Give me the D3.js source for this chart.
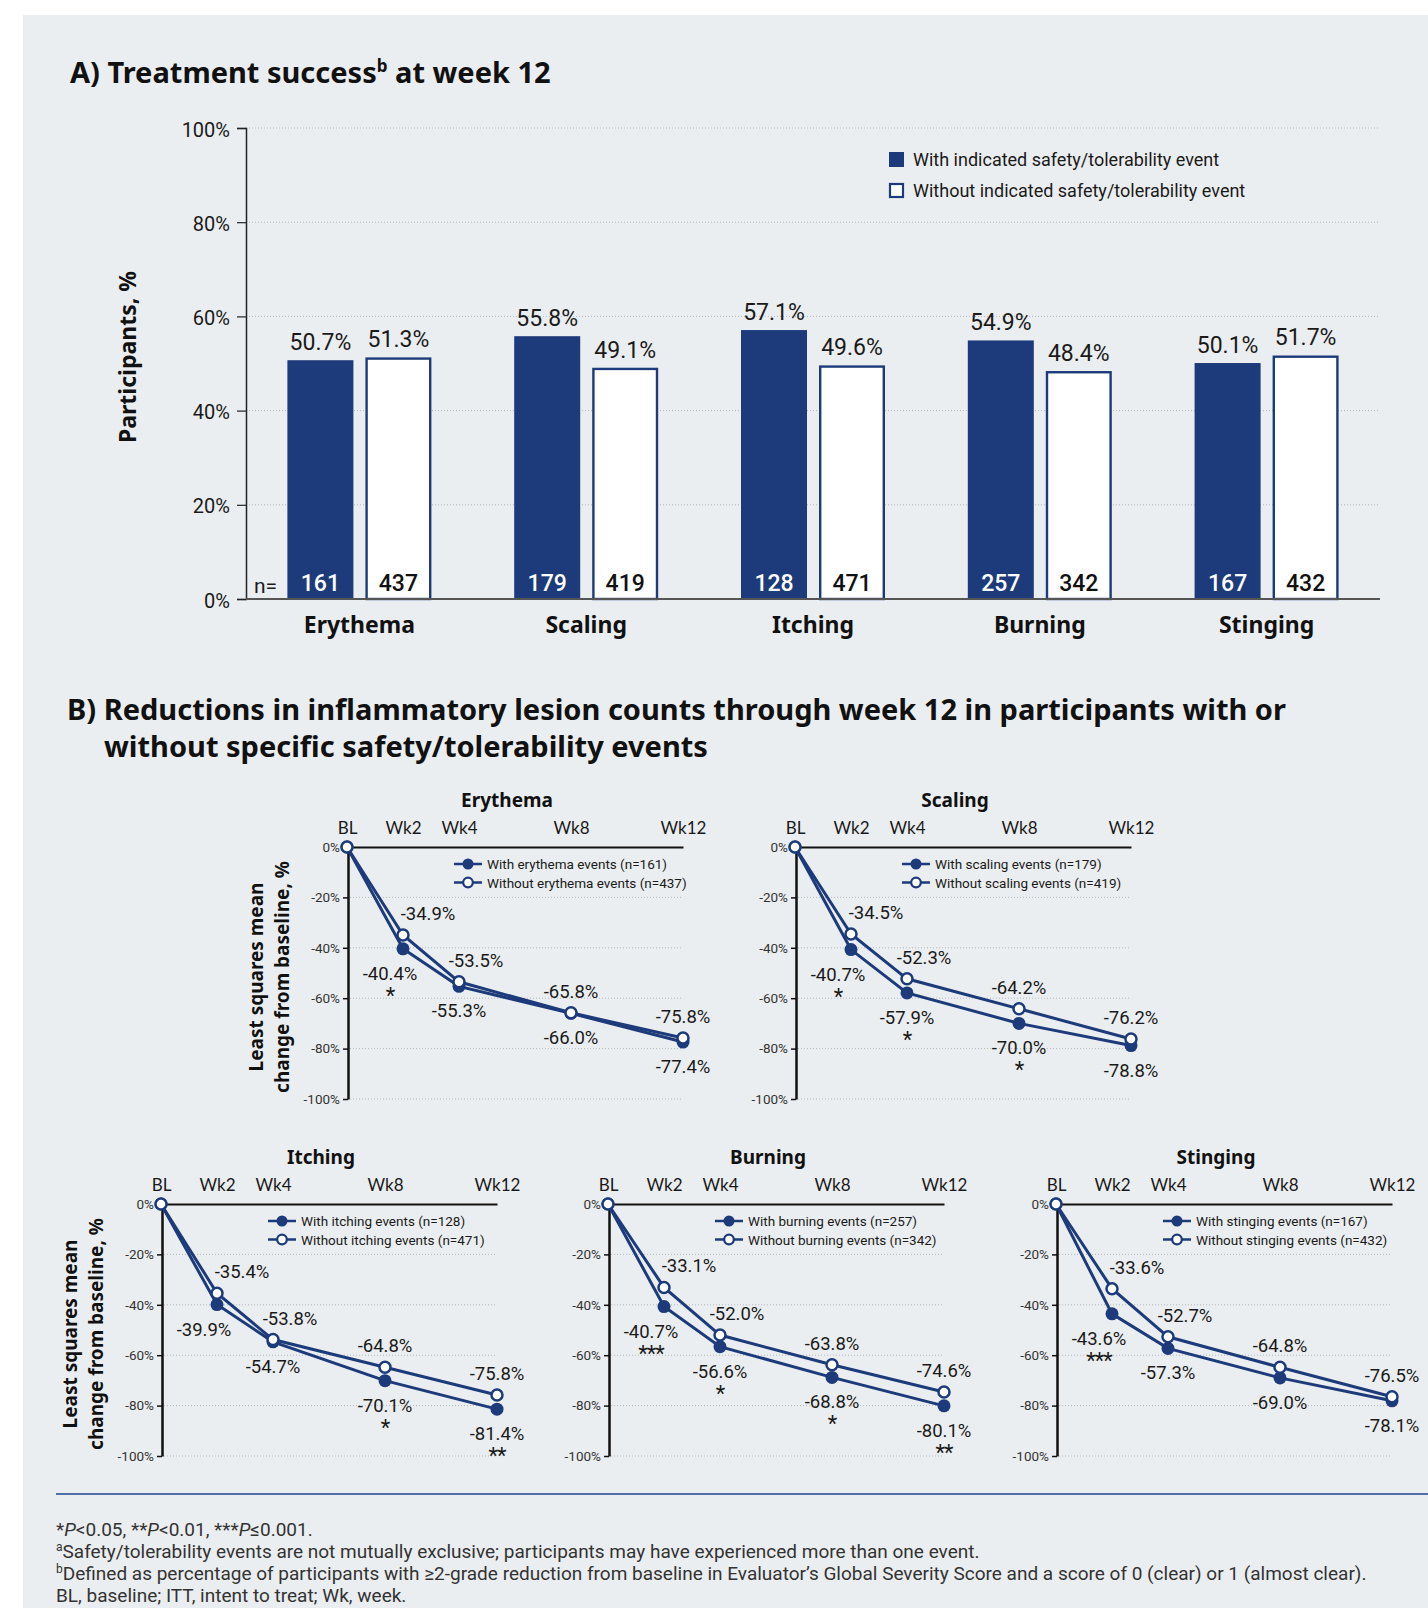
<!DOCTYPE html>
<html>
<head>
<meta charset="utf-8">
<script src="https://cdn.jsdelivr.net/npm/d3@7"></script>
<style>
  body { margin: 0; background: #fff; }
  .head { font-family: "Noto Sans", "Open Sans", sans-serif; font-weight: 700; fill: #111; }
  .num { font-family: Roboto, "Noto Sans", sans-serif; fill: #1a1a1a; }
  .wk { font-family: Lato, "Open Sans", sans-serif; fill: #1a1a1a; }
</style>
</head>
<body>
<script>
// ---- data ----
var categories = ["Erythema", "Scaling", "Itching", "Burning", "Stinging"];
var withPct    = [50.7, 55.8, 57.1, 54.9, 50.1];
var withoutPct = [51.3, 49.1, 49.6, 48.4, 51.7];
var withN      = [161, 179, 128, 257, 167];
var withoutN   = [437, 419, 471, 342, 432];
var yTicksA    = [0, 20, 40, 60, 80, 100];

var weeks      = [0, 2, 4, 8, 12];
var weekLabels = ["BL", "Wk2", "Wk4", "Wk8", "Wk12"];
var yTicksB    = [0, -20, -40, -60, -80, -100];
var eventNames = ["erythema", "scaling", "itching", "burning", "stinging"];
var withChange = [
  [0, -40.4, -55.3, -66.0, -77.4],
  [0, -40.7, -57.9, -70.0, -78.8],
  [0, -39.9, -54.7, -70.1, -81.4],
  [0, -40.7, -56.6, -68.8, -80.1],
  [0, -43.6, -57.3, -69.0, -78.1]
];
var withoutChange = [
  [0, -34.9, -53.5, -65.8, -75.8],
  [0, -34.5, -52.3, -64.2, -76.2],
  [0, -35.4, -53.8, -64.8, -75.8],
  [0, -33.1, -52.0, -63.8, -74.6],
  [0, -33.6, -52.7, -64.8, -76.5]
];
var stars = [
  ["", "*", "", "", ""],
  ["", "*", "*", "*", ""],
  ["", "", "", "*", "**"],
  ["", "***", "*", "*", "**"],
  ["", "***", "", "", ""]
];

var navy = "#1d3b7b";

var svg = d3.select("body").append("svg")
  .attr("width", 1428)
  .attr("height", 1608);

svg.append("rect")
  .attr("x", 23).attr("y", 15)
  .attr("width", 1428 - 23).attr("height", 1608 - 15)
  .attr("fill", "#ebeef0");

// ---------- Panel A ----------
var tA = svg.append("text").attr("class", "head")
  .attr("x", 70).attr("y", 83).attr("font-size", 29);
tA.append("tspan").text("A) Treatment success");
tA.append("tspan").attr("font-size", 17).attr("dy", -11).text("b");
tA.append("tspan").attr("dy", 11).text(" at week 12");

var x = d3.scaleBand().domain(categories).range([246, 1380]);
var y = d3.scaleLinear().domain([0, 100]).range([599, 128]);

// gridlines
svg.append("g").selectAll("line")
  .data(yTicksA.slice(1))
  .enter().append("line")
  .attr("x1", 246).attr("x2", 1380)
  .attr("y1", function(d){ return y(d); })
  .attr("y2", function(d){ return y(d); })
  .attr("stroke", "#b4b8bb")
  .attr("stroke-width", 1)
  .attr("stroke-dasharray", "1,2");

var axA = svg.append("g")
  .attr("transform", "translate(246,0)")
  .call(d3.axisLeft(y).tickValues(yTicksA).tickSize(9).tickPadding(7)
        .tickFormat(function(d){ return d + "%"; }));
axA.select(".domain").attr("stroke", "#222").attr("stroke-width", 1.5);
axA.selectAll(".tick line").attr("stroke", "#222").attr("stroke-width", 1.2);
axA.selectAll(".tick text").attr("class", "num").attr("font-size", 20).attr("dy", "0.4em");

svg.append("text").attr("class", "head")
  .attr("transform", "translate(136,357) rotate(-90)")
  .attr("text-anchor", "middle")
  .attr("font-size", 23)
  .text("Participants, %");

var barW = 66;
var groups = svg.append("g").selectAll("g")
  .data(categories)
  .enter().append("g")
  .attr("transform", function(d){ return "translate(" + (x(d) + x.bandwidth() / 2) + ",0)"; });

// with bars
groups.append("rect")
  .attr("x", -39 - barW / 2)
  .attr("y", function(d, i){ return y(withPct[i]); })
  .attr("width", barW)
  .attr("height", function(d, i){ return y(0) - y(withPct[i]); })
  .attr("fill", navy);

// without bars
groups.append("rect")
  .attr("x", 39 - barW / 2 + 1.2)
  .attr("y", function(d, i){ return y(withoutPct[i]) + 1.2; })
  .attr("width", barW - 2.4)
  .attr("height", function(d, i){ return y(0) - y(withoutPct[i]) - 1.2; })
  .attr("fill", "#fff")
  .attr("stroke", navy)
  .attr("stroke-width", 2.4);

groups.append("text").attr("class", "num")
  .attr("x", -39).attr("text-anchor", "middle").attr("font-size", 23)
  .attr("y", function(d, i){ return y(withPct[i]) - 10; })
  .text(function(d, i){ return withPct[i].toFixed(1) + "%"; });

groups.append("text").attr("class", "num")
  .attr("x", 39).attr("text-anchor", "middle").attr("font-size", 23)
  .attr("y", function(d, i){ return y(withoutPct[i]) - 10; })
  .text(function(d, i){ return withoutPct[i].toFixed(1) + "%"; });

groups.append("text").attr("class", "num")
  .attr("x", -39).attr("y", 591).attr("text-anchor", "middle")
  .attr("font-size", 23).attr("font-weight", 500).style("fill", "#fff")
  .text(function(d, i){ return withN[i]; });

groups.append("text").attr("class", "num")
  .attr("x", 39).attr("y", 591).attr("text-anchor", "middle")
  .attr("font-size", 23).attr("font-weight", 500).style("fill", "#111")
  .text(function(d, i){ return withoutN[i]; });

groups.append("text").attr("class", "head")
  .attr("y", 633).attr("text-anchor", "middle").attr("font-size", 23)
  .text(function(d){ return d; });

// baseline
svg.append("line")
  .attr("x1", 246).attr("x2", 1380)
  .attr("y1", y(0)).attr("y2", y(0))
  .attr("stroke", "#555").attr("stroke-width", 2);

svg.append("text").attr("class", "num")
  .attr("x", 254).attr("y", 593).attr("font-size", 21)
  .text("n=");

// legend A
var legA = svg.append("g").attr("transform", "translate(889,152)");
legA.append("rect").attr("width", 15).attr("height", 15).attr("fill", navy);
legA.append("rect").attr("x", 1).attr("y", 32).attr("width", 13).attr("height", 13)
  .attr("fill", "#fff").attr("stroke", navy).attr("stroke-width", 2.2);
legA.append("text").attr("class", "num").attr("x", 24).attr("y", 14).attr("font-size", 18)
  .text("With indicated safety/tolerability event");
legA.append("text").attr("class", "num").attr("x", 24).attr("y", 45).attr("font-size", 18)
  .text("Without indicated safety/tolerability event");

// ---------- Panel B ----------
var tB = svg.append("text").attr("class", "head").attr("font-size", 29);
tB.append("tspan").attr("x", 67).attr("y", 720)
  .text("B) Reductions in inflammatory lesion counts through week 12 in participants with or");
tB.append("tspan").attr("x", 104).attr("y", 757)
  .text("without specific safety/tolerability events");

var origins = [[347, 847], [795, 847], [161, 1204], [608, 1204], [1056, 1204]];
var plotW = 336, plotH = 252;

categories.forEach(function(cat, ci){
  var x0 = origins[ci][0], y0 = origins[ci][1];
  var xs = d3.scaleLinear().domain([0, 12]).range([x0, x0 + plotW]);
  var ys = d3.scaleLinear().domain([0, -100]).range([y0, y0 + plotH]);
  var g = svg.append("g");

  g.append("text").attr("class", "head")
    .attr("x", x0 + plotW / 2 - 8).attr("y", y0 - 40)
    .attr("text-anchor", "middle").attr("font-size", 19)
    .text(cat);

  // grid
  g.append("g").selectAll("line")
    .data(yTicksB.slice(1))
    .enter().append("line")
    .attr("x1", x0).attr("x2", x0 + plotW)
    .attr("y1", function(d){ return ys(d); })
    .attr("y2", function(d){ return ys(d); })
    .attr("stroke", "#b4b8bb").attr("stroke-width", 1)
    .attr("stroke-dasharray", "1,2");

  var ax = g.append("g").attr("transform", "translate(0," + y0 + ")")
    .call(d3.axisTop(xs).tickValues(weeks).tickSize(0).tickSizeOuter(0).tickPadding(13)
          .tickFormat(function(d, i){ return weekLabels[i]; }));
  ax.select(".domain").attr("stroke", "#111").attr("stroke-width", 2);
  ax.selectAll(".tick text").attr("class", "wk").attr("font-size", 17);

  var ay = g.append("g").attr("transform", "translate(" + (x0 + 1) + ",0)")
    .call(d3.axisLeft(ys).tickValues(yTicksB).tickSize(5).tickSizeOuter(0).tickPadding(3)
          .tickFormat(function(d){ return d + "%"; }));
  ay.select(".domain").attr("stroke", "#111").attr("stroke-width", 2.5);
  ay.selectAll(".tick line").attr("stroke", "#111").attr("stroke-width", 1.5);
  ay.selectAll(".tick text").attr("class", "num").attr("font-size", 13.5).style("fill", "#333");

  var line = d3.line()
    .x(function(d, i){ return xs(weeks[i]); })
    .y(function(d){ return ys(d); });

  // with series
  g.append("path").datum(withChange[ci])
    .attr("d", line).attr("fill", "none")
    .attr("stroke", navy).attr("stroke-width", 3);
  g.append("g").selectAll("circle")
    .data(withChange[ci])
    .enter().append("circle")
    .attr("cx", function(d, i){ return xs(weeks[i]); })
    .attr("cy", function(d){ return ys(d); })
    .attr("r", 6.5).attr("fill", navy);

  // without series
  g.append("path").datum(withoutChange[ci])
    .attr("d", line).attr("fill", "none")
    .attr("stroke", navy).attr("stroke-width", 3);
  g.append("g").selectAll("circle")
    .data(withoutChange[ci])
    .enter().append("circle")
    .attr("cx", function(d, i){ return xs(weeks[i]); })
    .attr("cy", function(d){ return ys(d); })
    .attr("r", 5.5).attr("fill", "#fff")
    .attr("stroke", navy).attr("stroke-width", 2.5);

  // value labels (skip baseline)
  var dxWithout = [0, 25, 17, 0, 0];
  var dxWith = [0, -13, 0, 0, 0];
  withoutChange[ci].forEach(function(v, i){
    if (i === 0) return;
    g.append("text").attr("class", "num")
      .attr("x", xs(weeks[i]) + dxWithout[i])
      .attr("y", ys(v) - 15)
      .attr("text-anchor", "middle").attr("font-size", 18.5)
      .text(v.toFixed(1) + "%");
  });
  withChange[ci].forEach(function(v, i){
    if (i === 0) return;
    var lx = xs(weeks[i]) + dxWith[i], ly = ys(v) + 31;
    g.append("text").attr("class", "num")
      .attr("x", lx).attr("y", ly)
      .attr("text-anchor", "middle").attr("font-size", 18.5)
      .text(v.toFixed(1) + "%");
    if (stars[ci][i]) {
      g.append("text").attr("class", "num")
        .attr("x", lx).attr("y", ly + 23)
        .attr("text-anchor", "middle").attr("font-size", 22)
        .attr("letter-spacing", -1)
        .text(stars[ci][i]);
    }
  });

  // legend
  var lg = g.append("g").attr("transform", "translate(" + (x0 + 107) + "," + (y0 + 17) + ")");
  [0, 1].forEach(function(k){
    var ly = k * 18.5;
    lg.append("line").attr("x1", 0).attr("x2", 28).attr("y1", ly).attr("y2", ly)
      .attr("stroke", navy).attr("stroke-width", 2.5);
    lg.append("circle").attr("cx", 14).attr("cy", ly)
      .attr("r", k === 0 ? 5.5 : 4.8)
      .attr("fill", k === 0 ? navy : "#fff")
      .attr("stroke", navy).attr("stroke-width", k === 0 ? 0 : 2.2);
    lg.append("text").attr("class", "num")
      .attr("x", 33).attr("y", ly + 5).attr("font-size", 13.5)
      .text((k === 0 ? "With " : "Without ") + eventNames[ci] + " events (n=" +
            (k === 0 ? withN[ci] : withoutN[ci]) + ")");
  });

  // y label on first chart of each row
  if (ci === 0 || ci === 2) {
    var yl = g.append("text").attr("class", "head")
      .attr("transform", "translate(" + (x0 - 84) + "," + (y0 + plotH / 2 + 4) + ") rotate(-90)")
      .attr("text-anchor", "middle").attr("font-size", 19);
    yl.append("tspan").attr("x", 0).attr("y", 0).text("Least squares mean");
    yl.append("tspan").attr("x", 0).attr("y", 26).text("change from baseline, %");
  }
});

// ---------- footer ----------
svg.append("line")
  .attr("x1", 56).attr("x2", 1428)
  .attr("y1", 1494).attr("y2", 1494)
  .attr("stroke", "#4f6fa6").attr("stroke-width", 2);

var foot = svg.append("g");
var f1 = foot.append("text").attr("class", "num").attr("font-size", 19)
  .attr("x", 56).attr("y", 1536).style("fill", "#333");
f1.append("tspan").text("*");
f1.append("tspan").attr("font-style", "italic").text("P");
f1.append("tspan").text("<0.05, **");
f1.append("tspan").attr("font-style", "italic").text("P");
f1.append("tspan").text("<0.01, ***");
f1.append("tspan").attr("font-style", "italic").text("P");
f1.append("tspan").text("\u22640.001.");

var f2 = foot.append("text").attr("class", "num").attr("font-size", 19)
  .attr("x", 56).attr("y", 1558).style("fill", "#333");
f2.append("tspan").attr("font-size", 12).attr("dy", -7).text("a");
f2.append("tspan").attr("dy", 7).text("Safety/tolerability events are not mutually exclusive; participants may have experienced more than one event.");

var f3 = foot.append("text").attr("class", "num").attr("font-size", 19)
  .attr("x", 56).attr("y", 1580).style("fill", "#333");
f3.append("tspan").attr("font-size", 12).attr("dy", -7).text("b");
f3.append("tspan").attr("dy", 7).text("Defined as percentage of participants with \u22652-grade reduction from baseline in Evaluator\u2019s Global Severity Score and a score of 0 (clear) or 1 (almost clear).");

foot.append("text").attr("class", "num").attr("font-size", 19)
  .attr("x", 56).attr("y", 1602).style("fill", "#333")
  .text("BL, baseline; ITT, intent to treat; Wk, week.");
</script>
</body>
</html>
